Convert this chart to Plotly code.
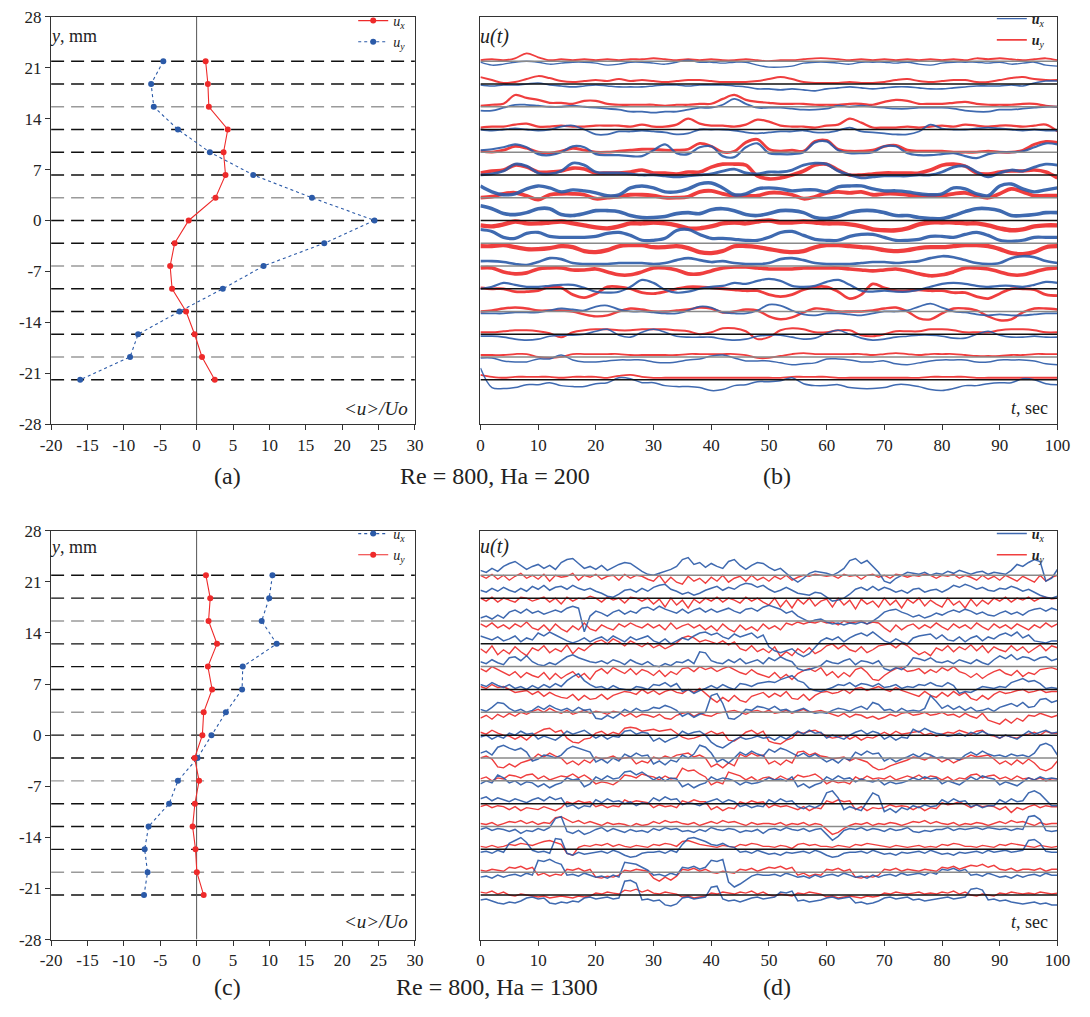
import sys
import plotly.graph_objects as go

FONT = "Liberation Serif"
BLUE = "#2b5aa8"
RED = "#ee2a2a"
INK = "#222222"

# probe positions across the channel, mm (top to bottom)
PROBE_Y = [21.9, 18.77, 15.64, 12.51, 9.39, 6.26, 3.13, 0.0,
           -3.13, -6.26, -9.39, -12.51, -15.64, -18.77, -21.9]

# (a) Re = 800, Ha = 200 : mean velocity profiles <u>/Uo
A_UX = [1.24, 1.55, 1.68, 4.28, 3.70, 3.97, 2.60, -1.09,
        -3.02, -3.64, -3.37, -1.45, -0.28, 0.74, 2.49]
A_UY = [-4.58, -6.25, -5.89, -2.57, 1.82, 7.78, 15.85, 24.45,
        17.54, 9.20, 3.60, -2.35, -8.04, -9.15, -16.0]

# (c) Re = 800, Ha = 1300 : mean velocity profiles <u>/Uo
C_UX = [10.42, 9.97, 8.94, 11.0, 6.34, 6.25, 4.02, 2.04,
        0.12, -2.57, -3.78, -6.60, -7.14, -6.74, -7.23]
C_UY = [1.28, 1.87, 1.64, 2.80, 1.55, 2.13, 0.97, 0.79,
        -0.28, 0.34, -0.24, -0.55, -0.15, 0.03, 0.97]

Y_TICKS = [-28, -21, -14, -7, 0, 7, 14, 21, 28]
X_TICKS_PROFILE = [-20, -15, -10, -5, 0, 5, 10, 15, 20, 25, 30]
X_TICKS_TIME = [0, 10, 20, 30, 40, 50, 60, 70, 80, 90, 100]

# (b) velocity fluctuation records, sampled every 2 s, one row per probe
T_B = list(range(0, 101, 2))
B_UX = [
    [-1,-4,-3,-1,0,-1,-3,-2,-1,-1, -2,-4,-3,-1,-1,-2,-3,-1,1,-1, -1,-2,-1,-1,-4,-6,-6,-5,-2,-1, -1,-2,-3,-1,-1,-1,-2,-1,-3,-4, -2,-1,-1,-1,-2,-1,-3,-2,-1,-4, -5],
    [-1,-2,-1,-1,0,1,-1,-2,-3,-2, -1,-2,-3,-3,-3,-2,-1,-1,-2,-1, -1,-1,-2,-3,-5,-5,-6,-5,-6,-7, -5,-4,-3,-4,-5,-4,-3,-3,-4,-5, -5,-4,-3,-2,-2,-2,-1,-2,1,3, 3],
    [-4,-4,-1,2,2,1,0,0,1,0, -1,-2,-3,-5,-5,-6,-5,-5,-3,-1, -1,2,8,3,-1,-1,-1,-2,-3,-3, -2,1,0,1,0,-1,-2,-2,-1,-1, -1,-2,-4,-5,-5,-3,-3,-2,-1,0, 0],
    [0,-1,0,1,0,-1,0,3,4,0, -5,-5,-2,-2,-1,-2,-3,-5,-4,0, 0,0,-1,-3,-4,-3,-2,-2,-1,-3, -3,-1,2,-2,-3,-4,-5,-5,-2,5, 1,0,0,1,2,1,0,-1,0,-1, -1],
    [2,3,5,8,5,-2,-3,0,6,5, -2,-3,-3,-4,-4,2,8,-1,-2,5, 6,-4,-5,5,9,-1,-2,-2,0,10, 11,2,-1,-1,0,6,6,-1,-3,-3, -2,-1,-4,-6,-2,0,0,1,5,9, 8],
    [0,1,4,11,9,2,1,4,12,10, 3,2,2,1,0,0,-1,-2,-1,0, 1,4,6,2,1,3,3,5,10,12, 11,4,0,-3,-2,-1,-1,-1,0,0, 3,8,9,3,-2,2,5,4,8,11, 10],
    [12,6,3,4,9,12,10,6,8,7, 5,2,3,10,12,10,6,6,9,14, 15,10,3,4,9,10,9,7,8,8, 6,11,12,12,9,7,7,6,4,3, 4,10,9,4,2,12,14,9,6,8, 10],
    [15,12,7,6,8,12,12,6,5,7, 10,10,9,5,3,3,4,7,8,7, 11,12,10,6,5,7,10,10,8,3, 2,4,8,10,10,8,5,5,3,2, 2,5,9,12,12,10,5,5,6,8, 8],
    [14,12,6,5,10,11,7,6,6,6, 7,10,11,8,3,3,5,13,14,9, 5,5,4,3,3,6,11,12,8,4, 3,3,7,9,9,6,3,3,4,7, 7,6,9,11,8,3,2,3,6,6, 6],
    [5,5,4,2,1,4,8,7,3,2, 2,2,3,3,3,2,3,6,8,6, 4,5,3,2,2,3,7,8,6,3, 2,2,2,3,4,4,3,4,5,8, 10,9,6,3,2,3,8,10,9,5, 3],
    [0,2,6,4,2,2,3,4,4,1, -3,-4,-3,2,9,6,-1,-4,-3,0, 2,3,6,5,8,10,8,3,2,3, 7,9,4,-2,-3,-2,-3,-3,-1,2, 5,6,5,3,2,3,3,2,4,7, 6],
    [-2,-2,-2,-1,-1,-1,1,3,2,1, 5,6,2,0,0,-1,-2,-2,1,5, 4,-1,-2,-2,1,7,6,1,-3,-4, -2,-2,-3,-4,-2,0,0,1,5,8, 4,0,-1,-3,-4,-3,-4,-4,-3,-2, -2],
    [-2,-2,-3,-5,-6,-5,-2,-1,-1,0, 3,5,-1,-3,2,5,2,-2,-3,-3, -3,-5,-6,-5,-2,-1,-1,-3,-5,-4, 1,4,0,-4,-6,-5,-3,-2,-1,-1, -2,-4,-4,0,3,-1,-3,-3,-2,-3, -3],
    [-1,-1,-4,-5,-5,-2,-2,2,-3,-5, -5,-4,-3,-3,-3,-5,-6,-5,-3,-2, 1,2,-1,-4,-4,-4,-6,-8,-7,-6, -2,-2,-3,-5,-5,-4,-7,-8,-6,-4, -3,-3,-3,-5,-5,-3,-3,-3,-4,-7, -8],
    [12,-8,-9,-8,-5,-5,-3,-6,-7,-7, -4,-3,2,1,-3,-3,-6,-7,-7,-8, -11,-10,-6,-5,-2,-2,-1,2,-4,-6, -6,-5,-8,-9,-9,-8,-5,-5,-7,-10, -11,-9,-6,-6,-4,-3,-3,1,0,-4, -5],
]
B_UY = [
    [1,2,1,3,8,4,1,2,1,2, 1,2,1,2,2,3,2,1,2,1, 2,1,1,2,1,0,1,1,2,3, 3,2,1,2,1,2,1,2,1,2, 1,2,1,3,2,3,2,1,2,3, 1],
    [7,4,1,2,5,8,6,3,2,3, 4,3,5,3,4,3,2,3,4,4, 3,2,2,2,3,5,7,5,2,1, 1,1,2,1,1,2,4,5,3,2, 3,4,4,2,2,4,6,7,5,4, 4],
    [1,2,3,12,9,7,4,4,3,6, 6,3,2,2,2,2,1,2,2,3, 3,8,12,7,5,4,3,3,3,2, 2,2,3,3,2,5,7,6,3,3, 3,4,5,3,2,2,2,3,3,1, 0],
    [2,3,3,5,6,3,3,4,3,3, 4,4,4,3,5,3,3,5,11,6, 4,4,3,5,10,8,4,3,3,2, 4,5,11,7,2,2,2,3,2,3, 4,3,5,4,3,4,4,3,4,5, -2],
    [1,0,2,6,4,0,-1,1,4,2, 0,0,1,2,3,3,2,2,3,9, 6,0,1,10,13,3,1,2,1,11, 12,3,1,1,2,6,7,2,1,1, 1,0,0,0,1,0,0,2,8,11, 10],
    [2,4,5,10,8,3,3,4,7,6, 2,2,2,3,5,2,2,1,3,3, 8,11,11,10,-1,-4,-3,0,4,10, 11,5,0,0,1,2,2,2,2,5, 10,11,9,2,1,3,4,4,5,3, -3],
    [0,1,4,5,2,-2,3,4,4,3, -1,0,1,3,3,2,0,0,1,6, 7,4,2,2,2,5,5,3,-1,1, 5,6,5,6,3,4,4,3,2,2, 2,4,5,2,0,4,9,6,2,2, 2],
    [-5,-6,-4,-1,-3,-3,-2,-1,-3,-5, -7,-8,-6,-3,-3,-2,-3,-5,-8,-8, -6,-3,-2,-3,-1,0,-2,-2,-1,-2, -3,-3,-4,-6,-9,-10,-10,-8,-4,-2, -2,-2,-3,-3,-5,-8,-10,-9,-6,-5, -5],
    [-3,-3,-2,-4,-6,-6,-5,-3,-4,-8, -9,-7,-3,-2,-2,-4,-4,-3,-5,-9, -10,-8,-3,-3,-4,-6,-8,-9,-8,-4, -2,-2,-3,-4,-5,-7,-8,-7,-5,-4, -4,-3,-2,-2,-3,-6,-10,-11,-9,-4, -3],
    [-2,-2,-6,-8,-7,-3,-2,-2,-4,-4, -3,-6,-9,-9,-6,-2,-2,-4,-8,-8, -5,-2,-1,-1,-2,-3,-3,-3,-2,-2, -2,-2,-3,-4,-5,-4,-3,-5,-8,-10, -9,-6,-2,-2,-3,-6,-9,-9,-6,-3, -2],
    [1,0,0,-3,-3,-2,2,1,-6,-9, -5,2,2,0,-4,-5,-3,0,2,2, 1,0,-1,-2,-2,-6,-8,-6,-1,2, 2,-3,-10,-6,5,1,-2,-2,-1,-2, -2,-4,-4,-8,-10,-5,0,0,-1,-6, -7],
    [0,1,3,4,3,1,1,1,0,-3, -5,-4,0,3,2,0,0,1,2,4, 3,-1,0,2,1,-5,-8,-6,-1,3, 2,0,0,0,1,3,4,0,-7,-8, -2,3,3,1,-5,-9,-8,-1,3,3, 2],
    [2,2,3,4,4,3,1,-3,2,4, 5,5,4,4,5,5,5,4,3,0, 2,6,6,3,-5,-3,4,6,5,2, 2,4,4,-1,-2,0,3,3,3,5, 5,4,2,2,2,4,5,5,4,2, 2],
    [2,2,2,3,3,0,-1,0,3,3, 3,3,3,2,2,2,2,2,3,3, 3,3,3,2,-1,-1,1,3,4,3, 3,3,3,3,2,3,4,3,2,3, 3,3,2,1,1,1,2,2,3,3, 3],
    [5,3,2,3,3,3,3,2,3,3, 3,2,4,5,3,2,2,2,2,2, 2,2,2,2,2,2,2,3,3,3, 3,2,2,2,2,2,2,2,2,3, 3,3,3,2,2,2,2,2,2,2, 2],
]

# (d) velocity fluctuation records, sampled every 1 s, one row per probe
T_D = list(range(0, 101))
D_UX = [
    [5,3,7,4,9,12,14,10,6,9, 11,7,10,6,13,16,17,12,7,9, 6,10,5,8,11,13,12,8,4,1, 0,2,4,6,9,16,18,11,13,8, 12,9,7,14,16,10,6,10,13,12, 8,5,7,2,-3,-7,-3,2,4,3, 2,0,3,7,15,17,12,15,9,3, -6,-8,-3,0,3,2,1,3,0,2, 1,4,2,5,3,1,3,4,1,3, 2,1,5,11,9,13,16,14,-6,-3, 6],
    [8,6,10,7,11,8,6,10,7,12, 9,13,8,11,12,9,13,10,8,10, 7,5,2,1,4,8,9,6,10,7, 11,13,14,9,7,4,6,3,5,8, 10,12,8,11,9,13,15,14,11,13, 9,6,8,11,8,5,4,3,6,5, 1,-3,-2,0,4,9,11,8,12,8, 11,9,6,8,5,9,10,6,8,9, 6,9,13,11,14,12,9,11,8,7, 10,9,12,10,7,9,6,3,1,0, 2],
    [3,5,2,6,3,9,11,8,12,8, 10,7,9,11,9,13,15,13,-11,5, 10,8,5,9,11,7,10,8,13,14, 11,15,12,10,8,12,8,11,13,9, 12,9,11,13,10,8,12,13,10,14, 16,14,12,8,10,5,2,-1,1,2, -1,-3,-2,-4,-2,-3,-1,-3,0,4, 9,11,12,9,7,4,6,3,5,8, 6,9,11,9,12,10,7,9,6,5, 8,10,7,9,6,10,12,13,10,13, 11],
    [8,6,4,7,3,5,8,2,6,4, 11,8,12,9,6,3,1,3,6,2, 5,7,3,8,5,2,7,4,6,8, 3,1,5,0,3,6,4,8,11,12, 9,11,7,5,10,7,9,11,6,9, -3,-7,-9,-7,-5,-10,-13,-10,-4,3, 6,4,7,2,6,9,11,8,12,7, 3,1,5,2,0,6,8,9,10,5, 9,4,3,7,2,6,8,3,7,5, 9,11,8,12,6,9,3,2,1,3, 3],
    [5,3,7,4,2,9,10,6,11,5, 2,1,4,2,6,10,12,9,7,5, 4,6,3,7,5,2,7,4,2,5, 1,0,3,1,5,4,7,3,15,14, 6,4,3,7,4,8,3,5,7,3, 9,6,10,7,5,-2,-4,-3,-1,1, 6,4,3,6,8,2,6,5,3,6, -2,-4,-1,-3,1,9,8,6,9,5, 4,6,3,7,5,3,7,4,2,7, 11,8,12,7,10,9,6,9,10,6, 8],
    [5,3,7,4,2,5,1,3,0,4, 1,5,2,6,3,9,13,16,9,5, 2,3,0,4,1,0,-1,3,2,0, 5,4,7,3,6,-2,0,-4,-1,1, 4,1,5,2,0,6,5,3,6,7, 8,7,10,12,14,9,7,1,-1,-2, 0,2,5,4,7,3,6,5,3,6, 2,3,5,1,3,2,5,4,7,4, 3,7,4,-4,-2,-3,0,3,2,1, 3,2,7,9,11,8,9,6,1,2, 1],
    [3,1,5,10,9,4,1,3,0,2, 6,3,7,4,2,4,1,5,2,3, -6,-7,-3,-6,-2,3,0,4,1,2, 5,4,7,5,2,-4,-1,-5,-2,0, 17,19,9,-6,-7,-3,3,2,6,5, 3,6,2,3,0,2,4,1,-1,0, -1,2,4,3,1,4,6,3,10,8, 2,3,0,4,1,2,1,4,17,11, 4,7,3,6,2,5,1,2,4,1, 5,7,9,6,10,5,6,13,14,10, 12],
    [-2,0,-4,-1,-3,2,0,4,1,2, -4,-1,-3,-5,-1,4,1,3,5,1, -3,0,-4,-1,-2,4,5,1,3,2, -6,-3,-7,-4,-2,4,1,3,4,0, -7,-11,-13,-9,-5,-2,-4,-3,-1,-3, -2,-5,-1,-4,0,4,1,5,2,3, -3,0,-2,-4,0,3,5,1,4,2, -4,-1,-5,-2,-3,6,3,7,4,2, 1,-1,0,2,-1,3,1,4,1,0, -3,0,-2,-4,0,4,1,3,5,2, 3],
    [5,7,3,11,13,10,8,10,6,-3, -1,3,2,0,3,9,12,10,8,6, -4,-1,-5,0,-3,4,1,5,2,3, -6,-3,-7,-2,-4,3,0,4,13,11, 5,-4,-1,-5,0,6,3,7,4,2, 9,6,10,8,5,2,5,1,4,0, -4,-1,-5,0,-2,6,3,7,4,5, -3,0,-4,-1,1,4,1,5,3,0, 1,-1,0,-2,3,6,3,7,4,2, 3,1,4,2,3,1,5,13,15,12, 3],
    [-3,0,-2,6,3,-2,0,-4,-1,-2, -6,-3,-7,-4,-2,3,1,2,-6,-3, 4,1,5,2,3,9,10,6,9,5, 1,4,0,3,2,-6,-3,-7,-4,-2, 4,1,3,2,0,-4,-1,-3,-2,0, 3,1,2,0,4,-6,-3,-7,-4,-2, 4,1,5,2,3,-1,2,0,-1,1, -4,-1,-3,-2,0,3,1,4,2,3, -3,0,-2,-4,0,4,1,5,3,2, -4,-1,-3,-5,-1,3,1,4,2,3, 2],
    [5,7,3,6,4,2,5,3,1,4, 6,3,7,4,6,-3,-1,-5,-2,-3, 4,1,5,2,3,0,2,-2,1,0, 6,3,7,4,5,-1,1,0,-2,1, 3,5,1,4,2,-3,-1,-4,-2,-3, 4,1,5,2,3,-3,-5,-2,-4,-1, 11,13,6,-6,-3,-5,-7,2,11,8, -8,-5,-9,-4,-6,-2,-4,-1,-3,-2, 4,1,5,2,3,-3,-1,-4,-2,-2, 4,1,5,2,3,11,13,10,4,-2, -2],
    [-3,-1,-4,-2,-3,-5,-3,-7,-4,-5, -2,-4,-1,8,10,-5,-7,-4,-8,-6, -3,-1,-5,-2,-4,-6,-3,-5,-4,-6, -2,-4,-1,-3,-2,-5,-4,-6,-3,-5, -1,-3,-4,-2,-3,-6,-4,-5,-3,-7, -3,-2,-4,-1,-3,-4,-2,-5,-3,-2, -8,-14,-10,-4,-2,-3,-1,-4,-2,-3, -5,-2,-4,-3,-1,-5,-6,-4,-5,-3, -3,-1,-4,-2,-3,-2,-1,-3,-1,-2, -3,-2,-4,-2,-3,10,11,7,-4,-5, -4],
    [-3,-2,-4,-1,-3,6,9,12,7,-1, -3,-2,-4,11,10,-4,-6,-3,-5,-4, -3,-2,-4,-1,-3,-6,-8,-7,-4,-3, -3,-2,-4,-1,-3,5,11,12,10,8, 5,4,6,3,2,-3,-2,-4,-1,-3, -5,-4,-6,-3,-4,-3,-2,-4,-1,-3, -6,-8,-7,-4,-3,-3,-2,-4,-1,-3, -5,-4,-6,-3,-4,-3,-2,-4,-1,-3, -5,-4,-6,-3,-4,-3,-2,-4,-1,-3, -2,-1,-3,-2,-1,9,10,6,-2,-3, -3],
    [-5,-4,-6,-3,-5,-3,-2,-4,-1,-3, 12,11,13,10,8,-3,-2,-4,-1,-3, -5,-4,-6,-3,-5,10,9,8,5,2, -3,-2,-4,-1,-3,5,4,6,3,5, 12,11,13,-10,-15,-12,-8,-4,-2,-3, -3,-2,-4,-1,-3,-5,-4,-6,-3,-5, -3,-2,-4,-1,-3,-5,-4,-6,-3,-5, -3,-2,-4,-1,-3,-2,-1,-3,0,-2, 3,2,4,1,3,-3,-2,-4,-1,-3, -5,-4,-6,-3,-5,-3,-2,-4,-1,-3, -3],
    [-5,-4,-6,-8,-9,-7,-8,-6,-3,-2, -4,-3,-8,-9,-7,-8,-6,-7,-3,-2, -4,-3,-2,-4,-3,14,15,12,-5,-4, -6,-5,-10,-11,-9,-3,-2,-4,-3,-2, 8,9,-4,-6,-5,-7,-5,-3,-2,-4, -3,-2,3,2,4,-6,-5,-7,-6,-5, -3,-2,-4,-3,-2,-8,-7,-9,-8,-6, -3,-2,-4,-3,-2,-5,-4,-6,-5,-4, -3,-2,-4,-3,-2,6,7,5,-5,-4, -6,-5,-7,-8,-9,-8,-7,-9,-8,-10, -10],
]
D_UY = [
    [0,-3,1,-4,0,-5,-1,2,-3,0, -4,1,-6,0,-2,-1,2,-5,0,-2, 1,-4,-1,0,-5,1,-3,0,-1,-4, -6,0,-8,-2,-7,-9,-1,-6,-3,-8, -2,-6,0,-7,-3,-1,-6,0,-5,-2, -6,-1,-4,0,-5,-2,0,-1,1,0, -1,0,-3,1,-1,0,-4,0,1,-2, 0,-3,1,0,-2,0,-1,1,0,-3, 0,-1,1,-3,0,-2,-5,0,-4,-1, -5,0,-3,-6,-1,-4,-7,0,-6,-2, 0],
    [0,-3,1,-4,0,-2,-4,1,0,-3, -1,1,-4,0,-6,1,-3,0,-1,2, 0,-4,1,-2,0,-5,1,0,-3,0, -6,-1,-9,0,-7,-2,-10,-1,-5,0, -3,1,-4,0,-2,-5,1,-3,0,-4, -7,0,-9,-2,-10,-1,-6,0,-8,-3, -1,-9,0,-7,-2,-11,-1,-6,-3,-9, 0,-7,-2,-10,-1,-5,0,-8,-2,-6, -9,0,-7,-3,-10,-1,-8,-2,-6,0, -3,1,-4,0,-2,1,-3,0,1,-1, 0],
    [-3,-6,-2,-7,-4,-8,-3,-6,-1,-7, -9,-4,-10,-3,-8,-11,-5,-9,-2,-8, -10,-4,-7,-9,-3,-6,-2,-5,-7,-3, -7,-4,-9,-2,-8,-5,-3,-7,-4,-9, -5,-10,-3,-8,-11,-4,-9,-6,-10,-3, -8,-5,-9,-2,-4,-1,-3,-1,-2,0, -2,-1,-4,0,-2,-1,0,-3,-1,-2, -7,-11,-4,-9,-5,-3,-8,-4,-7,-2, -6,-9,-3,-7,-4,-8,-2,-6,-9,-3, -7,-4,-8,-3,-6,-9,-4,-7,-2,-6, -3],
    [-5,-9,-2,-11,-6,-10,-3,-8,-12,-4, -7,-2,-9,-5,-8,-1,-10,-4,-7,-2, 2,4,0,5,2,-2,3,0,-3,1, -4,-1,-5,-2,1,6,8,6,2,4, 2,0,3,-1,2,-5,-7,-2,-8,-5, -9,-3,-13,-8,-12,-5,-9,-4,-10,-7, -2,0,-5,-1,-6,-8,-3,-9,-6,-2, -1,0,-4,1,-2,-7,-11,-8,-12,-4, -7,-2,-8,-3,-6,-1,-7,-2,-9,-3, -6,-8,-2,-7,-3,-9,-5,-1,-7,-2, -4],
    [-2,-5,0,-3,-6,-9,-5,-11,-6,-9, -11,-6,-13,-7,-12,-8,-5,-11,-7,-13, -5,-2,-7,-1,-4,-7,-2,-8,-3,-5, -9,-4,-10,-5,-8,-2,-1,-5,0,-3, -1,-5,-2,0,-3,-6,-8,-3,-7,-9, -11,-6,-12,-8,-13,-7,-4,-2,-5,-1, -9,-5,-11,-6,-10,-3,-1,-6,-13,-14, -9,-5,-2,-1,-5,-4,-2,-7,-3,-6, -1,-4,0,-5,-7,-11,-7,-12,-8,-5, -3,-7,-9,-4,-10,-6,-8,-3,-2,-1, -3],
    [3,1,5,2,3,0,-3,-2,-1,-5, -2,-7,-3,-6,-8,-9,-5,-11,-6,-10, -9,-5,-10,-6,-4,-2,-3,-5,0,-4, -1,-5,-2,0,-3,-4,0,-3,1,-4, -9,-13,-8,-12,-6,-11,-13,-7,-5,-3, -8,-4,-7,-2,-9,-10,-5,-11,-6,-3, -2,-4,-3,0,-4,1,2,-1,1,3, 0,-2,2,-1,-3,-5,-7,-2,-6,-8, -3,-7,-2,-6,-3,-9,-11,-6,-10,-5, -2,-4,-3,-1,0,-3,-2,0,-3,-2, -2],
    [-6,-3,-7,-2,-5,-1,-4,0,-2,1, 3,0,4,1,-1,2,-2,0,2,-1, 1,0,-2,1,0,-4,-1,-5,-2,-3, -5,-2,-6,-7,-3,-1,0,-4,-1,-3, -4,-1,0,1,2,0,-2,1,2,0, 2,-1,0,2,-1,1,3,0,1,2, 0,-2,-4,-1,-5,-2,-3,-6,-4,-7, -5,-2,-4,-1,0,-3,-2,0,-3,-2, 0,-3,-2,-5,-1,-4,-6,-1,-8,-10, -12,-7,-11,-6,-9,-3,-4,-1,-3,-5, -3],
    [3,1,5,2,0,-1,-4,-1,-5,0, 3,6,7,3,5,-3,-7,-8,-4,-3, 2,4,0,3,1,7,8,7,4,5, 6,4,5,6,2,-2,-4,-3,-1,1, 4,1,3,-5,-6,-2,3,5,1,4, -6,-8,-9,-5,-3,3,2,4,5,2, -1,-3,-2,0,-4,-1,-5,-2,-3,0, 3,0,4,1,2,3,4,0,2,-1, 1,3,2,5,3,1,4,5,0,-1, -3,0,-2,-3,0,1,3,0,4,2, 2],
    [0,2,-1,-9,-10,-6,-9,-5,-3,-1, 4,1,5,2,0,-6,-3,-7,-2,-5, 1,-1,0,2,-1,0,1,-6,-3,-5, 1,-1,2,0,3,4,5,1,3,0, -9,-6,-10,-5,-8,4,1,5,2,3, -6,-3,-7,-2,-5,6,7,3,5,2, 1,-1,0,1,-3,0,-2,-4,-9,-12, -11,-8,-6,-4,-2,1,0,-2,1,0, -4,-1,-5,-2,0,3,1,2,3,-1, -6,-3,-7,-2,-6,-1,-5,-11,-13,-10, -3],
    [2,4,0,3,2,6,5,3,6,7, 2,5,1,3,5,4,7,3,6,2, -3,-1,-2,-4,0,6,5,3,7,5, 4,1,5,2,3,13,10,11,7,4, -4,-1,-3,9,7,5,1,4,0,3, 4,1,5,2,1,6,4,5,7,3, -3,0,-2,-1,-3,4,1,5,2,3, 2,5,1,3,5,3,6,2,5,4, 1,4,0,3,2,6,7,3,5,6, 2,4,1,5,2,3,1,3,0,2, 2],
    [-3,-1,-4,-2,-3,-6,-3,-7,-4,-5, -6,-3,-5,-7,-4,2,0,3,1,2, -3,-1,-4,-2,-3,4,1,3,2,1, -4,-1,-3,-2,-4,3,1,4,2,2, -6,-3,-7,-4,-5,2,0,3,1,2, -4,-1,-3,-2,-4,-6,-3,-7,-4,-5, 3,1,4,2,3,-6,-3,-7,-4,-5, -4,-1,-3,-2,-3,-6,-3,-7,-4,-5, 1,-1,0,2,-1,-4,-1,-3,-2,-3, -6,-3,-9,-4,-6,-3,-1,-4,-2,-3, -3],
    [3,2,4,1,3,5,4,6,3,5, 2,4,3,9,10,7,4,6,3,5, 3,1,4,2,3,2,0,3,1,2, 5,3,6,4,5,3,2,4,1,3, 5,3,6,4,5,3,1,4,2,3, 3,2,4,1,3,2,4,1,3,2, -3,-8,-6,-2,1,3,2,4,1,3, 2,4,3,1,3,5,4,6,3,5, 3,2,4,1,3,2,4,3,1,3, 5,3,6,4,5,3,1,4,2,3, 3],
    [3,2,4,2,3,5,4,6,5,4, 6,8,9,7,5,-4,-6,2,4,3, 5,4,6,3,5,3,2,4,3,2, 5,4,6,5,3,8,9,7,5,4, 3,2,4,3,2,5,4,6,5,3, 3,2,4,3,1,5,6,4,5,3, 3,2,4,3,2,5,4,6,5,4, 3,2,4,3,2,3,4,2,3,2, 5,4,6,5,3,3,2,4,3,2, 5,4,6,5,4,3,2,4,3,2, 3],
    [2,1,3,2,1,5,4,6,3,5, -3,-1,-4,-2,-3,3,2,4,1,3, -5,-6,-4,-5,-3,2,1,3,2,1, -6,-9,-5,-8,-4,3,2,4,1,3, 0,-1,1,0,-1,3,2,4,1,3, 5,4,6,3,5,-3,-1,-4,-2,-3, 3,2,4,1,3,-5,-6,-4,-5,-3, 3,2,4,1,3,2,1,3,2,1, 5,4,6,3,5,7,6,8,5,7, 3,2,4,1,3,3,2,4,1,3, 3],
    [3,2,4,1,3,0,-1,1,0,-1, -2,-1,-3,-2,-1,-2,-3,-1,-2,-1, 2,1,3,2,1,5,4,6,3,5, 2,1,3,2,1,-2,-1,-3,-2,-1, 2,1,3,2,1,3,2,4,1,3, 0,-1,1,0,-1,2,1,3,2,1, -2,-1,-3,-2,-1,-2,-3,-1,-2,-1, 2,1,3,2,1,2,3,1,2,1, 3,2,4,1,3,0,-1,1,0,-1, 2,1,3,2,1,2,1,3,2,1, 2],
]

# one trace unit = 0.135 mm of vertical offset on the record panels
TRACE_SCALE = 0.135

# look of the reference lines and record bands
DASH_GREY = {2, 6, 9, 13}
BASE_GREY = {0, 2, 4, 6, 8, 9, 11, 13}
B_WIDTH_UX = [1.4, 1.6, 1.8, 1.8, 2.2, 2.8, 3.4, 3.6, 3.2, 2.6, 2.2, 1.8, 1.6, 1.5, 1.5]
B_WIDTH_UY = [1.8, 2.0, 2.2, 2.2, 2.8, 3.6, 3.8, 4.4, 4.2, 3.6, 2.8, 2.4, 2.0, 1.8, 1.8]

for name, rows, t in (("B_UX", B_UX, T_B), ("B_UY", B_UY, T_B),
                      ("D_UX", D_UX, T_D), ("D_UY", D_UY, T_D)):
    for i, r in enumerate(rows):
        if len(r) != len(t):
            print(name, i, len(r), file=sys.stderr)

fig = go.Figure()

X_A = [0.03761, 0.37890]
X_B = [0.44037, 0.98165]
Y_TOP = [0.58407, 0.99213]
Y_BOT = [0.06755, 0.47719]


def frame(tick_vals, show_labels=True):
    axis = dict(
        showline=True, mirror=True, linecolor="#333333", linewidth=1.2,
        showgrid=False, zeroline=False,
        ticks="outside" if show_labels else "", ticklen=5, tickwidth=1,
        tickcolor="#333333", showticklabels=show_labels,
        tickfont=dict(family=FONT, size=17, color=INK),
    )
    if tick_vals is not None:
        axis["tickvals"] = tick_vals
        # plain hyphen for negative labels
        axis["ticktext"] = [str(v) for v in tick_vals]
    return axis


fig.update_layout(
    xaxis=dict(domain=X_A, range=[-20, 30], anchor="y", **frame(X_TICKS_PROFILE)),
    yaxis=dict(domain=Y_TOP, range=[-28, 28], anchor="x", **frame(Y_TICKS)),
    xaxis2=dict(domain=X_B, range=[0, 100], anchor="y2", **frame(X_TICKS_TIME)),
    yaxis2=dict(domain=Y_TOP, range=[-28, 28], anchor="x2", **frame(None, False)),
    xaxis3=dict(domain=X_A, range=[-20, 30], anchor="y3", **frame(X_TICKS_PROFILE)),
    yaxis3=dict(domain=Y_BOT, range=[-28, 28], anchor="x3", **frame(Y_TICKS)),
    xaxis4=dict(domain=X_B, range=[0, 100], anchor="y4", **frame(X_TICKS_TIME)),
    yaxis4=dict(domain=Y_BOT, range=[-28, 28], anchor="x4", **frame(None, False)),
)

# ---- profile panels (a) and (c) ----
shapes = []
for xa, ya in (("x", "y"), ("x3", "y3")):
    for i, yv in enumerate(PROBE_Y):
        shapes.append(dict(type="line", xref=xa, yref=ya, x0=-20, x1=30, y0=yv, y1=yv,
                           layer="below",
                           line=dict(color="#9a9a9a" if i in DASH_GREY else "#111111",
                                     width=1.4, dash="13px,7px")))
    shapes.append(dict(type="line", xref=xa, yref=ya, x0=0, x1=0, y0=-28, y1=28,
                       layer="below", line=dict(color="#555555", width=1)))


def profile(x, name, color, solid, xa, ya, legend, rank):
    return go.Scatter(
        x=x, y=PROBE_Y, xaxis=xa, yaxis=ya, mode="lines+markers", name=name,
        legend=legend, legendrank=rank,
        line=dict(color=color, width=1.1, dash="solid" if solid else "dot"),
        marker=dict(color=color, size=6),
    )


fig.add_trace(profile(A_UX, "<i>u<sub>x</sub></i>", RED, True, "x", "y", "legend", 1))
fig.add_trace(profile(A_UY, "<i>u<sub>y</sub></i>", BLUE, False, "x", "y", "legend", 2))
fig.add_trace(profile(C_UX, "<i>u<sub>x</sub></i>", BLUE, False, "x3", "y3", "legend3", 1))
fig.add_trace(profile(C_UY, "<i>u<sub>y</sub></i>", RED, True, "x3", "y3", "legend3", 2))


# ---- record panels (b) and (d) ----
def records(t, rows_ux, rows_uy, xa, ya, legend, w_ux, w_uy, shape):
    for k, base in enumerate(PROBE_Y):
        fig.add_trace(go.Scatter(
            x=t, y=[base + v * TRACE_SCALE for v in rows_uy[k]], xaxis=xa, yaxis=ya,
            mode="lines", line=dict(color=RED, width=w_uy[k], shape=shape),
            name="<i><b>u</b><sub>y</sub></i>", legend=legend, legendrank=2,
            showlegend=(k == 0), opacity=0.9))
        fig.add_trace(go.Scatter(
            x=t, y=[base + v * TRACE_SCALE for v in rows_ux[k]], xaxis=xa, yaxis=ya,
            mode="lines", line=dict(color=BLUE, width=w_ux[k], shape=shape),
            name="<i><b>u</b><sub>x</sub></i>", legend=legend, legendrank=1,
            showlegend=(k == 0), opacity=0.9))
    for i, yv in enumerate(PROBE_Y):
        shapes.append(dict(type="line", xref=xa, yref=ya, x0=0, x1=100, y0=yv, y1=yv,
                           line=dict(color="#8a8a8a" if i in BASE_GREY else "#111111",
                                     width=1.5)))


records(T_B, B_UX, B_UY, "x2", "y2", "legend2", B_WIDTH_UX, B_WIDTH_UY, "spline")
records(T_D, D_UX, D_UY, "x4", "y4", "legend4", [1.5] * 15, [1.4] * 15, "linear")

fig.update_layout(shapes=shapes)

legend_style = dict(xanchor="right", yanchor="top", bgcolor="rgba(0,0,0,0)",
                    font=dict(family=FONT, size=14, color=INK), itemwidth=30,
                    tracegroupgap=0, traceorder="normal")
fig.update_layout(
    legend=dict(x=0.3745, y=1.004, **legend_style),
    legend2=dict(x=0.9745, y=1.006, **legend_style),
    legend3=dict(x=0.3745, y=0.490, **legend_style),
    legend4=dict(x=0.9745, y=0.490, **legend_style),
)

ann = []


def note(text, x, y, xanchor="left", size=17):
    ann.append(dict(text=text, x=x, y=y, xref="paper", yref="paper", xanchor=xanchor,
                    yanchor="middle", showarrow=False,
                    font=dict(family=FONT, size=size, color=INK)))


for ytop, ybot in ((0.9725, 0.5998), (0.4612, 0.0855)):
    note("<i>y</i>, mm", 0.0350, ytop, size=18)
    note("<i>&lt;u&gt;/Uo</i>", 0.3743, ybot, "right", 19)
    note("<i>u(t)</i>", 0.4385, ytop, size=20)
    note("<i>t</i>, sec", 0.9743, ybot, "right", 18)

note("(a)", 0.2030, 0.532, "center", 24)
note("Re = 800, Ha = 200", 0.4541, 0.532, "center", 24)
note("(b)", 0.7190, 0.532, "center", 24)
note("(c)", 0.2030, 0.0197, "center", 24)
note("Re = 800, Ha = 1300", 0.4560, 0.0197, "center", 24)
note("(d)", 0.7190, 0.0197, "center", 24)

fig.update_layout(
    annotations=ann,
    width=1090, height=1017, autosize=False,
    margin=dict(l=0, r=0, t=0, b=0),
    paper_bgcolor="white", plot_bgcolor="white",
    font=dict(family=FONT, color=INK),
)

fig.write_html("out.html")
